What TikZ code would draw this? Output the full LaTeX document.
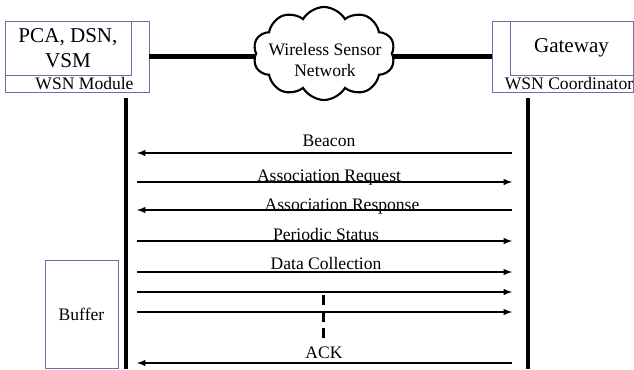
\documentclass[tikz,border=0pt]{standalone}
\usepackage{fontspec}
\setmainfont{Liberation Serif}
\usetikzlibrary{positioning,shapes.symbols}
\definecolor{boxline}{RGB}{110,110,160}

\begin{document}
\begin{tikzpicture}[x=0.02cm, y=-0.02cm, semithick, font=\fontsize{10}{11.5}\selectfont,
	box/.style ={rectangle, draw=boxline, thin, inner sep=0pt},
	big/.style ={font=\fontsize{12}{14}\selectfont, align=center},
	link/.style ={line width=2.5pt},
	life/.style ={line width=2.3pt},
	msg/.style ={-latex, line width=0.65pt}]
	\useasboundingbox (0,0) rectangle (634,369);

	% end points
	\node[box, minimum width=2.88cm, minimum height=1.42cm] (mod) at (77,56.5) {};
	\node[box, big, minimum width=2.52cm, minimum height=1.08cm] (pca) at (68,48) {PCA, DSN,\\VSM};
	\node[anchor=base] (modlbl) at (84.5,89) {WSN Module};

	\node[box, minimum width=2.82cm, minimum height=1.42cm] (coord) at (562.5,56.5) {};
	\node[box, big, minimum width=2.46cm, minimum height=1.08cm] (gw) at (571.5,48) {Gateway};
	\node[anchor=base] (coordlbl) at (569,89) {WSN Coordinator};

	\node[cloud, draw, line width=1.2pt, cloud puffs=10, cloud puff arc=120, cloud ignores aspect,
		minimum width=2.84cm, minimum height=1.86cm] (net) at (324,53.5) {};
	\node[align=center] (netlbl) at (325,60) {Wireless Sensor\\Network};

	\draw[link] (mod.east) -- (mod.east -| net.west);
	\draw[link] (coord.west) -- (coord.west -| net.east);

	% life lines
	\coordinate (lt) at (126,98);
	\coordinate (lb) at (126,369);
	\coordinate (rt) at (528,98);
	\coordinate (rb) at (528,369);
	\draw[life] (lt) -- (lb);
	\draw[life] (rt) -- (rb);

	% messages
	\foreach \y in {153,182,210,241,272,292,312,363}{
		\coordinate (a\y) at (137,\y);
		\coordinate (b\y) at (512,\y);
	}
	\draw[msg] (b153) -- (a153);
	\draw[msg] (a182) -- (b182);
	\draw[msg] (b210) -- (a210);
	\draw[msg] (a241) -- (b241);
	\draw[msg] (a272) -- (b272);
	\draw[msg] (a292) -- (b292);
	\draw[msg] (a312) -- (b312);
	\draw[msg] (b363) -- (a363);

	\node[anchor=base] (beacon) at (329,146) {Beacon};
	\node[anchor=base] (areq) at (329,181) {Association Request};
	\node[anchor=base] (aresp) at (342,210) {Association Response};
	\node[anchor=base] (status) at (326,240) {Periodic Status};
	\node[anchor=base] (data) at (326,269) {Data Collection};
	\node[anchor=base] (ack) at (324,358) {ACK};

	\coordinate (d1) at (323,295);
	\coordinate (d2) at (323,339);
	\draw[line width=1.7pt, dash pattern=on 5.7pt off 3.8pt] (d1) -- (d2);

	% buffer
	\node[box, minimum width=1.46cm, minimum height=2.16cm] (buf) at (81.5,314) {Buffer};
\end{tikzpicture}
\end{document}
